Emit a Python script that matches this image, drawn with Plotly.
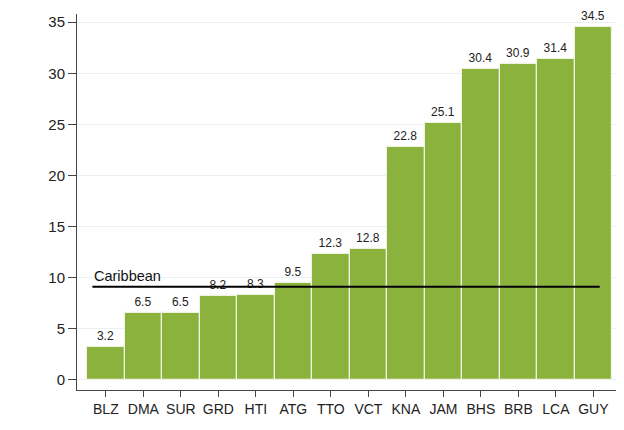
import plotly.graph_objects as go

countries = ["BLZ", "DMA", "SUR", "GRD", "HTI", "ATG", "TTO", "VCT", "KNA", "JAM", "BHS", "BRB", "LCA", "GUY"]
values = [3.2, 6.5, 6.5, 8.2, 8.3, 9.5, 12.3, 12.8, 22.8, 25.1, 30.4, 30.9, 31.4, 34.5]
caribbean_avg = 9.1
caribbean_label = "Caribbean"
y_ticks = [0, 5, 10, 15, 20, 25, 30, 35]

x_idx = list(range(len(countries)))
FONT = "Liberation Sans, Arial, sans-serif"

fig = go.Figure()
fig.add_trace(go.Bar(
    x=x_idx, y=values, width=1.0,
    marker=dict(color="#8ab23c", line=dict(color="#eef3e3", width=1.2)),
    text=[f"{v:.1f}" for v in values], textposition="outside",
    textfont=dict(size=12, color="#222222", family=FONT),
    cliponaxis=False, hoverinfo="skip",
))
fig.add_trace(go.Scatter(
    x=[-0.36, 13.17], y=[caribbean_avg, caribbean_avg], mode="lines",
    line=dict(color="black", width=2), hoverinfo="skip",
))
fig.add_annotation(x=-0.38, y=caribbean_avg, text=caribbean_label, showarrow=False,
                   xanchor="left", yanchor="bottom", yshift=1,
                   font=dict(size=14.5, color="#111111", family=FONT))

fig.update_layout(
    width=616, height=422,
    margin=dict(l=69, r=1, t=6, b=40),
    paper_bgcolor="white", plot_bgcolor="white",
    showlegend=False, bargap=0,
    font=dict(family=FONT, color="#222222"),
    xaxis=dict(range=[-0.77, 13.79], tickmode="array", tickvals=x_idx, ticktext=countries,
               showgrid=False, zeroline=False, showline=True, linecolor="#444444", linewidth=1,
               ticks="outside", ticklen=6, tickcolor="#444444", tickfont=dict(size=14)),
    yaxis=dict(range=[-1.0, 35.8], tickmode="array", tickvals=y_ticks,
               showgrid=True, gridcolor="#e8f0f2", gridwidth=1, zeroline=False,
               showline=True, linecolor="#444444", linewidth=1,
               ticks="outside", ticklen=8, tickcolor="#444444", tickfont=dict(size=15)),
)

fig.write_html("out.html")
